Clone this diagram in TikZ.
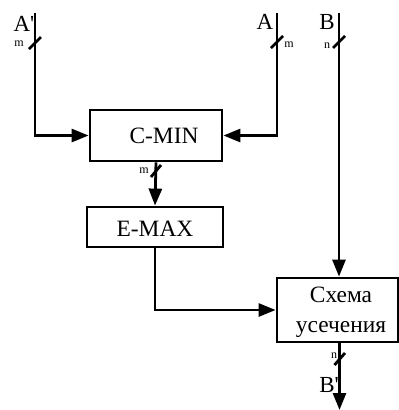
\documentclass[tikz,border=0pt]{standalone}
\usepackage{fontspec}
\setmainfont{Liberation Serif}[Ligatures=TeXOff]
\usetikzlibrary{arrows.meta}
\begin{document}
\begin{tikzpicture}[x=1pt,y=-1pt,
  box/.style={draw=black, line width=2.8pt, inner sep=0pt},
  txt/.style={inner sep=0pt, font=\fontsize{23.4}{30}\selectfont},
  arr/.style={line width=2.8pt, -{Triangle[length=17pt,width=13pt]}},
  bus/.style={line width=2.8pt},
  lbl/.style={inner sep=0pt, font=\fontsize{23}{24}\selectfont},
  small/.style={inner sep=0pt, font=\fontsize{12}{12}\selectfont}]
\useasboundingbox (0,0) rectangle (399,410);
\node[box, minimum width=132pt, minimum height=51pt] (cmin) at (156,135.5) {};
\node[txt] (cmint) at (164,135.5) {C-MIN};
\node[box, minimum width=136pt, minimum height=40pt] (emax) at (155,227) {};
\node[txt] (emaxt) at (155,228.5) {E-MAX};
\node[box, minimum width=121pt, minimum height=64pt] (sch) at (337.5,310) {};
\node[txt, align=center] (scht) at (341,312) {Схема\\усечения};
\coordinate (aptop) at (35,13);
\coordinate (atop) at (277,13);
\coordinate (btop) at (339,13);
\coordinate (bout) at (339.5,410);
\draw[arr] (aptop) |- (cmin.west);
\draw[arr] (atop) |- (cmin.east);
\draw[arr] (btop) -- (btop |- sch.north);
\draw[arr] (cmin.south) -- (emax.north);
\draw[arr] (emax.south) |- (sch.west);
\draw[arr] (bout |- sch.south) -- (bout);
% bus slashes
\draw[bus] (29,49) -- (41,37);
\draw[bus] (271,48) -- (283,36);
\draw[bus] (333,48) -- (345,36);
\draw[bus] (151,177) -- (161,165);
\draw[bus] (334.5,365) -- (345,353);
% labels
\node[lbl] (lap) at (24,24) {A'};
\node[lbl] (la) at (265,22) {A};
\node[lbl] (lb) at (327,22) {B};
\node[lbl] (lbp) at (329,385) {B'};
\node[small] (m1) at (19,44) {m};
\node[small] (m2) at (289,45) {m};
\node[small] (n1) at (327,46) {n};
\node[small] (m3) at (144,171) {m};
\node[small] (n2) at (334,356) {n};
\end{tikzpicture}
\end{document}
